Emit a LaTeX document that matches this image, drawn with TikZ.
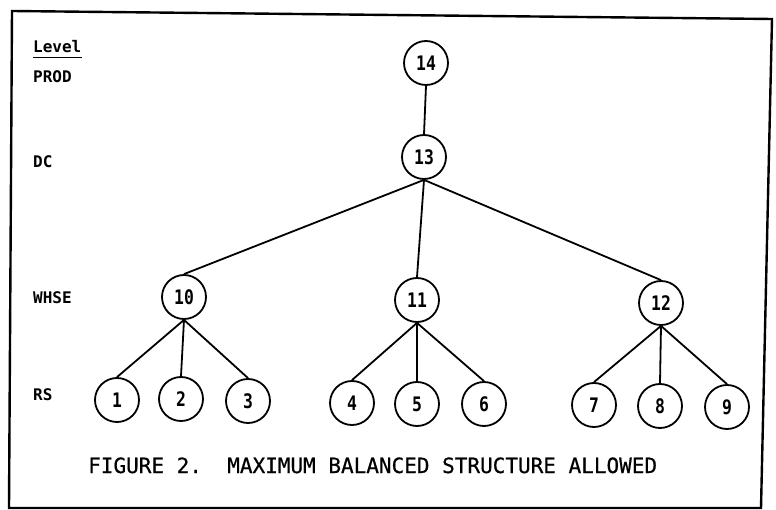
\documentclass[tikz,border=0pt]{standalone}
\usepackage{fontspec}
\newfontfamily\tw[FakeBold=0.6]{DejaVu Sans Mono}
\newfontfamily\twb{DejaVu Sans Mono Bold}
\newfontfamily\numfont[FakeStretch=0.82]{DejaVu Sans Mono Bold}
\begin{document}
\begin{tikzpicture}[x=1pt,y=-1pt,
  unit/.style={circle,draw,line width=1.8pt,minimum size=44pt,inner sep=0pt,
    font=\numfont\fontsize{20}{20}\selectfont},
  link/.style={line width=1.8pt},
  lvl/.style={anchor=base west,inner sep=0pt,font=\twb\fontsize{16}{16}\selectfont},
  frame/.style={line width=2.4pt}]
\useasboundingbox (0,0) rectangle (776,510);

% outer frame
\draw[frame] (12,11) -- (772,19) -- (761,508) -- (9,508) -- cycle;

% level names
\node[lvl] (lv) at (33,53) {Level};
\draw[line width=1.6pt] ([yshift=-4.5pt]lv.base west) -- ([yshift=-4.5pt]lv.base east);
\node[lvl] (prod) at (33,83) {PROD};
\node[lvl] (dc) at (33,168) {DC};
\node[lvl] (whse) at (33,304) {WHSE};
\node[lvl] (rs) at (33,400) {RS};

% tree nodes
\node[unit] (n14) at (426,63) {14};
\node[unit] (n13) at (424,157) {13};
\node[unit] (n10) at (184,297) {10};
\node[unit] (n11) at (417,300) {11};
\node[unit] (n12) at (661,303) {12};
\node[unit] (n1) at (117,400) {1};
\node[unit] (n2) at (181,399) {2};
\node[unit] (n3) at (248,401) {3};
\node[unit] (n4) at (352,403) {4};
\node[unit] (n5) at (417,404) {5};
\node[unit] (n6) at (484,404) {6};
\node[unit] (n7) at (594,405) {7};
\node[unit] (n8) at (660,406) {8};
\node[unit] (n9) at (727,407) {9};

% connectors
\draw[link] (n14.south) -- (n13.north);
\foreach \c in {n10,n11,n12} \draw[link] (n13.south) -- (\c.north);
\foreach \c in {n1,n2,n3} \draw[link] (n10.south) -- (\c.north);
\foreach \c in {n4,n5,n6} \draw[link] (n11.south) -- (\c.north);
\foreach \c in {n7,n8,n9} \draw[link] (n12.south) -- (\c.north);

% caption
\node[anchor=base west,inner sep=0pt,font=\tw\fontsize{21}{21}\selectfont] (cap) at (88,473)
  {FIGURE 2.~~MAXIMUM BALANCED STRUCTURE ALLOWED};
\end{tikzpicture}
\end{document}
